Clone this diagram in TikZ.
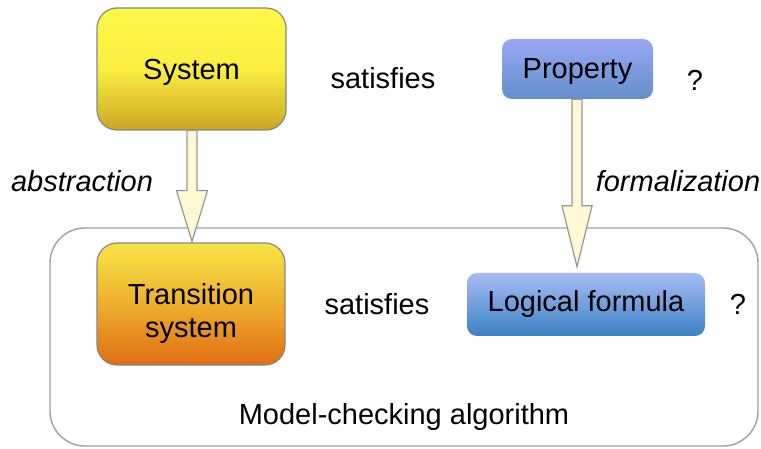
\documentclass[tikz,border=0pt]{standalone}
\usepackage{fontspec}
\setmainfont{Liberation Sans}
\usetikzlibrary{calc}
\definecolor{sysTop}{RGB}{255,248,72}
\definecolor{sysMid}{RGB}{250,238,66}
\definecolor{sysBot}{RGB}{205,165,35}
\definecolor{trTop}{RGB}{247,228,70}
\definecolor{trMid}{RGB}{238,175,45}
\definecolor{trBot}{RGB}{225,108,20}
\definecolor{prTop}{RGB}{152,168,245}
\definecolor{prBot}{RGB}{100,142,200}
\definecolor{lfTop}{RGB}{168,188,245}
\definecolor{lfBot}{RGB}{58,130,195}
\definecolor{arrFill}{RGB}{255,248,212}
\definecolor{arrLine}{RGB}{150,150,150}
\definecolor{boxLine}{RGB}{135,135,135}
\begin{document}
\begin{tikzpicture}[x=1pt,y=-1pt,
  every node/.style={font=\fontsize{29}{33}\selectfont, inner sep=0pt},
  yellowbox/.style={draw=boxLine, line width=1.2pt, rounded corners=20pt, align=center,
     top color=sysTop, bottom color=sysBot, middle color=sysMid},
  orangebox/.style={draw=boxLine, line width=1.2pt, rounded corners=20pt, align=center,
     top color=trTop, bottom color=trBot, middle color=trMid},
  bluebox/.style={rounded corners=10pt, align=center},
  nodepth/.style={text depth=0pt},
  barrow/.style={draw=arrLine, fill=arrFill, line width=1.2pt, line join=miter},
  lbl/.style={font=\fontsize{29}{33}\selectfont\itshape}
]
\useasboundingbox (0,0) rectangle (761,449);
% outer frame
\node[draw=boxLine!80, line width=1.4pt, rounded corners=35pt, minimum width=708pt, minimum height=218pt] (mc) at (404,337) {};
\node (mclabel) at (404,417) {Model-checking algorithm};

\node[yellowbox, nodepth, minimum width=189pt, minimum height=122pt] (sys) at (191.5,69) {System};
\node[bluebox, nodepth, top color=prTop, bottom color=prBot, minimum width=151pt, minimum height=60pt] (prop) at (577.5,69) {Property};
\node[orangebox, minimum width=188pt, minimum height=122pt] (trans) at (191,304) {};
\node[align=center] (transtext) at ($(trans.center)+(0,10)$) {Transition\\system};
\node[bluebox, top color=lfTop, bottom color=lfBot, minimum width=238pt, minimum height=63pt] (logic) at (586,304.5) {Logical formula};

\node (sat1) at (383,78) {satisfies};
\node (q1) at (695,80) {?};
\node (sat2) at (377,304) {satisfies};
\node (q2) at (738,304) {?};
\node[lbl] (abs) at (82,181) {abstraction};
\node[lbl] (form) at (678,181) {formalization};

% block arrows
\coordinate (tipA) at ($(sys.south)+(0.5,111)$);
\draw[barrow] ($(sys.south)+(-4.5,0)$) -- ($(tipA)+(-5,-51)$) -- ($(tipA)+(-15.5,-51)$) -- (tipA)
   -- ($(tipA)+(15.5,-51)$) -- ($(tipA)+(5,-51)$) -- ($(sys.south)+(5.5,0)$) -- cycle;
\coordinate (tipB) at ($(logic.north)+(-9,-6)$);
\draw[barrow] ($(prop.south)+(-5.5,0)$) -- ($(tipB)+(-5,-61)$) -- ($(tipB)+(-15,-61)$) -- (tipB)
   -- ($(tipB)+(15,-61)$) -- ($(tipB)+(5,-61)$) -- ($(prop.south)+(4.5,0)$) -- cycle;
\end{tikzpicture}
\end{document}
